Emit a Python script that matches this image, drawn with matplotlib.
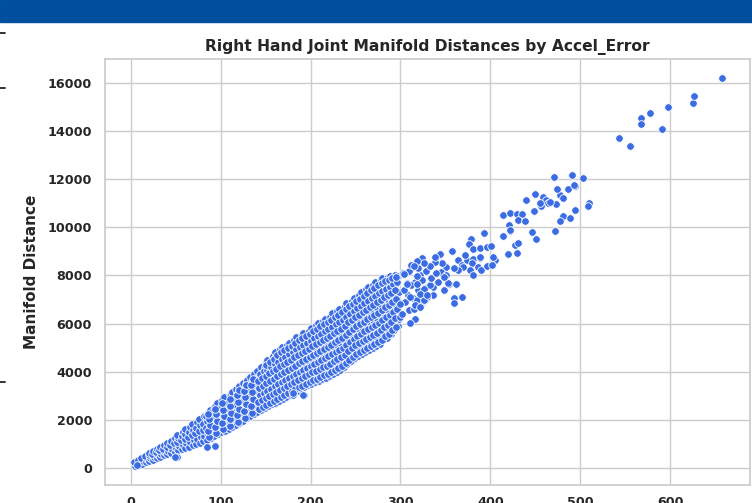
import matplotlib
matplotlib.use('Agg')
import matplotlib.pyplot as plt
from matplotlib.patches import Rectangle
from matplotlib.lines import Line2D
import seaborn as sns

sns.set_theme(style='whitegrid')
plt.rcParams['font.family'] = ['DejaVu Sans']

# dense band of points, one line per column of the cloud
band_x = [
    5, 7, 4,
    9, 10, 8,
    13, 14, 12,
    17, 18, 16,
    21, 22, 20, 21,
    25, 26, 24, 25,
    29, 30, 28, 29,
    33, 34, 32, 33,
    37, 38, 36, 37,
    41, 42, 40, 41,
    45, 46, 44, 45,
    49, 50, 48, 49,
    53, 54, 52, 53, 52,
    57, 58, 56, 57, 58,
    61, 62, 60, 61, 60,
    65, 66, 64, 65, 66,
    69, 70, 68, 69, 68,
    73, 74, 72, 73, 74,
    77, 78, 76, 77, 76,
    81, 82, 80, 81, 82,
    85, 86, 84, 85, 84, 86,
    89, 90, 88, 89, 90, 88,
    93, 94, 92, 93, 92, 94,
    97, 98, 96, 97, 98, 96,
    101, 102, 100, 101, 100, 102,
    105, 106, 104, 105, 106, 104,
    109, 110, 108, 109, 108, 110,
    113, 114, 112, 113, 114, 112, 113,
    117, 118, 116, 117, 116, 118, 117,
    121, 122, 120, 121, 122, 120, 121,
    125, 126, 124, 125, 124, 126, 125,
    129, 130, 128, 129, 130, 128, 129,
    133, 134, 132, 133, 132, 134, 133,
    137, 138, 136, 137, 138, 136, 137,
    141, 142, 140, 141, 140, 142, 141,
    145, 146, 144, 145, 146, 144, 145,
    149, 150, 148, 149, 150, 148, 149, 150,
    153, 154, 152, 153, 154, 152, 153, 152,
    157, 158, 156, 157, 158, 156, 157, 158,
    161, 162, 160, 161, 162, 160, 161, 160,
    165, 166, 164, 165, 166, 164, 165, 166,
    169, 170, 168, 169, 170, 168, 169, 168,
    173, 174, 172, 173, 174, 172, 173, 174,
    177, 178, 176, 177, 178, 176, 177, 176,
    181, 182, 180, 181, 182, 180, 181, 182,
    185, 186, 184, 185, 186, 184, 185, 184,
    189, 190, 188, 189, 190, 188, 189, 190,
    193, 194, 192, 193, 194, 192, 193, 192,
    197, 198, 196, 197, 198, 196, 197, 198,
    201, 202, 200, 201, 202, 200, 201, 200,
    205, 206, 204, 205, 206, 204, 205, 206,
    209, 210, 208, 209, 210, 208, 209, 208,
    213, 214, 212, 213, 214, 212, 213, 214,
    217, 218, 216, 217, 218, 216, 217, 216,
    221, 222, 220, 221, 222, 220, 221, 222,
    225, 226, 224, 225, 226, 224, 225, 224,
    229, 230, 228, 229, 230, 228, 229, 230,
    233, 234, 232, 233, 234, 232, 233, 232,
    237, 238, 236, 237, 238, 236, 237, 238,
    241, 242, 240, 241, 242, 240, 241, 240,
    245, 246, 244, 245, 246, 244, 245, 246,
    249, 250, 248, 249, 250, 248, 249, 248,
    253, 254, 252, 253, 254, 252, 253, 254,
    257, 258, 256, 257, 258, 256, 257, 256,
    261, 262, 260, 261, 262, 260, 261, 262,
    265, 266, 264, 265, 266, 264, 265, 264,
    269, 270, 268, 269, 270, 268, 269, 270,
    273, 274, 272, 273, 274, 272, 273, 272,
    277, 278, 276, 277, 278, 276, 277, 278,
    281, 282, 280, 281, 282, 280, 281, 280,
    285, 286, 284, 285, 286, 284, 285, 286,
    289, 290, 288, 289, 290, 288, 289, 288,
    293, 294, 292, 293, 294, 292, 293, 294,
    297, 298, 296, 297, 298, 296, 297,
]
band_y = [
    90, 180, 250,
    130, 240, 340,
    190, 300, 420,
    250, 380, 520,
    300, 420, 540, 630,
    360, 480, 600, 710,
    420, 550, 680, 800,
    480, 610, 740, 880,
    540, 680, 820, 970,
    580, 720, 880, 1050,
    630, 800, 960, 1140,
    690, 860, 1040, 1250,
    740, 920, 1100, 1260, 1380,
    790, 980, 1160, 1330, 1500,
    840, 1030, 1230, 1420, 1610,
    890, 1100, 1300, 1510, 1730,
    950, 1160, 1380, 1600, 1830,
    1010, 1230, 1460, 1690, 1940,
    1070, 1300, 1540, 1780, 2040,
    1120, 1350, 1600, 1850, 2160,
    1190, 1420, 1680, 1950, 2180, 2290,
    1260, 1500, 1760, 2020, 2260, 2420,
    1340, 1580, 1850, 2110, 2360, 2590,
    1410, 1660, 1930, 2200, 2460, 2710,
    1490, 1740, 2010, 2290, 2560, 2830,
    1560, 1810, 2080, 2360, 2640, 2940,
    1640, 1900, 2170, 2450, 2730, 3060,
    1720, 1980, 2260, 2540, 2820, 3100, 3180,
    1800, 2060, 2340, 2620, 2900, 3170, 3300,
    1880, 2140, 2420, 2710, 2990, 3260, 3420,
    1960, 2230, 2510, 2800, 3080, 3360, 3540,
    2080, 2350, 2630, 2920, 3200, 3480, 3660,
    2170, 2440, 2720, 3010, 3300, 3580, 3790,
    2250, 2520, 2800, 3100, 3390, 3680, 3910,
    2330, 2600, 2880, 3180, 3480, 3770, 4030,
    2410, 2690, 2980, 3280, 3580, 3880, 4190,
    2490, 2770, 3060, 3370, 3680, 3990, 4200, 4350,
    2570, 2850, 3150, 3460, 3780, 4090, 4320, 4510,
    2650, 2930, 3240, 3560, 3880, 4200, 4440, 4670,
    2730, 3010, 3320, 3650, 3970, 4300, 4560, 4830,
    2810, 3100, 3410, 3740, 4070, 4400, 4680, 4940,
    2890, 3180, 3500, 3830, 4160, 4490, 4780, 5020,
    2970, 3260, 3580, 3910, 4250, 4580, 4870, 5100,
    3050, 3340, 3670, 4000, 4340, 4680, 4970, 5200,
    3130, 3420, 3750, 4090, 4430, 4780, 5080, 5320,
    3210, 3500, 3840, 4180, 4530, 4880, 5180, 5440,
    3290, 3580, 3920, 4270, 4620, 4970, 5270, 5520,
    3370, 3660, 4000, 4350, 4700, 5060, 5360, 5600,
    3450, 3740, 4080, 4440, 4790, 5150, 5450, 5690,
    3510, 3810, 4160, 4520, 4880, 5240, 5550, 5810,
    3560, 3870, 4230, 4600, 4970, 5340, 5660, 5940,
    3640, 3950, 4310, 4680, 5060, 5430, 5750, 6020,
    3700, 4010, 4380, 4760, 5140, 5520, 5840, 6100,
    3750, 4070, 4450, 4840, 5230, 5610, 5930, 6190,
    3810, 4140, 4530, 4920, 5310, 5700, 6020, 6290,
    3910, 4240, 4630, 5030, 5420, 5810, 6140, 6440,
    3990, 4320, 4710, 5110, 5510, 5900, 6230, 6520,
    4080, 4410, 4800, 5200, 5600, 6000, 6330, 6620,
    4190, 4520, 4910, 5320, 5720, 6110, 6440, 6750,
    4340, 4670, 5060, 5460, 5860, 6250, 6580, 6870,
    4460, 4790, 5180, 5570, 5960, 6350, 6680, 6940,
    4580, 4910, 5300, 5690, 6080, 6470, 6800, 7060,
    4670, 5000, 5390, 5790, 6180, 6580, 6910, 7180,
    4750, 5080, 5480, 5880, 6280, 6680, 7010, 7300,
    4830, 5160, 5560, 5970, 6380, 6780, 7120, 7420,
    4910, 5250, 5660, 6070, 6480, 6890, 7230, 7540,
    4990, 5330, 5740, 6160, 6570, 6980, 7320, 7620,
    5070, 5410, 5830, 6250, 6670, 7090, 7430, 7740,
    5170, 5510, 5930, 6350, 6770, 7190, 7530, 7830,
    5330, 5660, 6070, 6480, 6890, 7300, 7620, 7890,
    5410, 5740, 6150, 6560, 6970, 7380, 7700, 7940,
    5570, 5880, 6280, 6680, 7080, 7480, 7780, 7980,
    5730, 6030, 6420, 6810, 7200, 7590, 7880, 8020,
    5890, 6180, 6560, 6940, 7320, 7700, 7990,
]

# points lying between the columns above, where the cloud is thickest
fill_x = [
    87, 86, 88, 87, 86,
    95, 94, 96, 95, 94,
    103, 102, 104, 103, 102,
    111, 110, 112, 111, 110,
    119, 118, 120, 119, 118, 120,
    127, 126, 128, 127, 126, 128,
    135, 134, 136, 135, 134, 136,
    143, 142, 144, 143, 142, 144,
    147, 146, 148, 147, 146, 148,
    151, 150, 152, 151, 150, 152, 151,
    155, 154, 156, 155, 154, 156, 155,
    159, 158, 160, 159, 158, 160, 159,
    163, 162, 164, 163, 162, 164, 163,
    167, 166, 168, 167, 166, 168, 167,
    171, 170, 172, 171, 170, 172, 171,
    175, 174, 176, 175, 174, 176, 175,
    179, 178, 180, 179, 178, 180, 179,
    183, 182, 184, 183, 182, 184, 183,
    187, 186, 188, 187, 186, 188, 187,
    191, 190, 192, 191, 190, 192, 191,
    195, 194, 196, 195, 194, 196, 195,
    199, 198, 200, 199, 198, 200, 199,
    203, 202, 204, 203, 202, 204, 203,
    207, 206, 208, 207, 206, 208, 207,
    211, 210, 212, 211, 210, 212, 211,
    215, 214, 216, 215, 214, 216, 215,
    219, 218, 220, 219, 218, 220, 219,
    223, 222, 224, 223, 222, 224, 223,
    227, 226, 228, 227, 226, 228, 227,
    231, 230, 232, 231, 230, 232, 231,
    235, 234, 236, 235, 234, 236, 235,
    239, 238, 240, 239, 238, 240, 239,
    243, 242, 244, 243, 242, 244, 243,
    247, 246, 248, 247, 246, 248, 247,
    251, 250, 252, 251, 250, 252, 251,
    255, 254, 256, 255, 254, 256, 255,
    259, 258, 260, 259, 258, 260, 259,
    263, 262, 264, 263, 262, 264, 263,
    267, 266, 268, 267, 266, 268, 267,
    271, 270, 272, 271, 270, 272, 271,
    275, 274, 276, 275, 274, 276, 275,
    279, 278, 280, 279, 278, 280, 279,
    283, 282, 284, 283, 282, 284, 283,
    287, 286, 288, 287, 286, 288, 287,
    291, 290, 292, 291, 290, 292, 291,
    295, 294, 296, 295, 294, 296, 295,
]
fill_y = [
    1305, 1550, 1815, 2065, 2235,
    1460, 1715, 1980, 2235, 2475,
    1615, 1875, 2150, 2425, 2695,
    1770, 2035, 2310, 2590, 2895,
    1930, 2200, 2480, 2760, 3035, 3235,
    2095, 2370, 2655, 2940, 3220, 3450,
    2305, 2580, 2865, 3155, 3440, 3685,
    2465, 2740, 3030, 3330, 3625, 3900,
    2550, 2835, 3130, 3430, 3730, 4035,
    2630, 2915, 3215, 3525, 3835, 4095, 4275,
    2710, 3000, 3305, 3620, 3935, 4205, 4415,
    2790, 3085, 3400, 3720, 4040, 4320, 4555,
    2870, 3165, 3485, 3810, 4135, 4430, 4695,
    2955, 3255, 3575, 3905, 4235, 4540, 4810,
    3035, 3340, 3665, 3995, 4325, 4635, 4900,
    3115, 3420, 3745, 4080, 4415, 4725, 4985,
    3195, 3505, 3835, 4170, 4510, 4825, 5085,
    3275, 3585, 3920, 4260, 4605, 4930, 5200,
    3355, 3670, 4010, 4355, 4705, 5030, 5310,
    3435, 3750, 4095, 4445, 4795, 5120, 5395,
    3515, 3830, 4175, 4525, 4880, 5210, 5480,
    3595, 3910, 4260, 4615, 4970, 5300, 5570,
    3660, 3985, 4340, 4700, 5060, 5395, 5680,
    3715, 4050, 4415, 4785, 5155, 5500, 5800,
    3795, 4130, 4495, 4870, 5245, 5590, 5885,
    3855, 4195, 4570, 4950, 5330, 5680, 5970,
    3910, 4260, 4645, 5035, 5420, 5770, 6060,
    3975, 4335, 4725, 5115, 5505, 5860, 6155,
    4075, 4435, 4830, 5225, 5615, 5975, 6290,
    4155, 4515, 4910, 5310, 5705, 6065, 6375,
    4245, 4605, 5000, 5400, 5800, 6165, 6475,
    4355, 4715, 5115, 5520, 5915, 6275, 6595,
    4505, 4865, 5260, 5660, 6055, 6415, 6725,
    4625, 4985, 5375, 5765, 6155, 6515, 6810,
    4745, 5105, 5495, 5885, 6275, 6635, 6930,
    4835, 5195, 5590, 5985, 6380, 6745, 7045,
    4915, 5280, 5680, 6080, 6480, 6845, 7155,
    4995, 5360, 5765, 6175, 6580, 6950, 7270,
    5080, 5455, 5865, 6275, 6685, 7060, 7385,
    5160, 5535, 5950, 6365, 6775, 7150, 7470,
    5240, 5620, 6040, 6460, 6880, 7260, 7585,
    5340, 5720, 6140, 6560, 6980, 7360, 7680,
    5495, 5865, 6275, 6685, 7095, 7460, 7755,
    5575, 5945, 6355, 6765, 7175, 7540, 7820,
    5725, 6080, 6480, 6880, 7280, 7630, 7880,
    5880, 6225, 6615, 7005, 7395, 7735, 7950,
]

# looser points between accel error 300 and 400
mid_x = [322, 324, 327, 336, 348, 354, 362, 336, 359, 368, 359, 325,
         364, 368, 374, 381, 388, 380, 386, 390, 396, 405, 402, 377, 381, 370, 364, 359, 351, 346, 338, 345, 351,
         378, 376, 357, 344, 338, 372, 381, 388,
         314, 320, 303, 307, 316, 333, 353, 322, 327, 314, 309, 316, 311, 299,
         302, 305, 308, 312, 310, 318, 320, 324, 328, 315, 330, 334, 340, 342, 348, 333, 326, 312, 318,
         326, 326, 318, 322, 311, 304, 318, 315, 304, 307, 300, 329, 316, 322, 388]
mid_y = [8021, 8739, 7469, 7535, 7398, 7647, 7635, 7191, 7054, 7120, 6846, 6913,
         8643, 8436, 8643, 8672, 8739, 8506, 8365, 8228, 8394, 8643, 8436, 8228, 8021, 8365, 8228, 8299, 8340, 8506, 8573, 8158, 8021,
         9502, 9307, 9029, 8880, 8755, 8851, 9087, 9129,
         8365, 8299, 8091, 7676, 7743, 7606, 7676, 6776, 6983, 7054, 6568, 6183, 6041, 6290,
         6400, 6900, 7200, 7600, 8200, 7000, 7400, 7800, 8200, 6600, 7100, 7900, 8100, 7750, 7950, 8400, 8500, 8450, 8600,
         6964, 7447, 7653, 7240, 7102, 7378, 7998, 8412, 8067, 7653, 6826, 7191, 6776, 6706, 8780]

# sparse points above 390
upper_x = [393, 414, 422, 429, 435, 431, 438, 421, 422, 414, 427, 431, 396, 401, 419, 430, 403, 422,
           439, 450, 459, 462, 464, 477, 481, 473, 456, 448, 510, 508, 494, 481, 477, 488, 472, 446, 451,
           471, 491, 503, 494, 486, 474, 493, 466, 455,
           543, 555, 567, 567, 577, 591, 597, 625, 626, 657]
upper_y = [9751, 10510, 10606, 10552, 10552, 10303, 10274, 10095, 9859, 9639, 9266, 9361, 9195, 9237, 8880, 8921, 8780, 9888,
           11133, 11382, 11270, 11133, 10996, 11340, 11203, 10967, 10896, 10689, 11021, 10896, 10718, 10481, 10261, 10373, 9834, 9805, 9515,
           12075, 12170, 12033, 11726, 11577, 11602, 11755, 11062, 10996,
           13693, 13386, 14523, 14286, 14730, 14079, 15004, 15145, 15448, 16183]

# low outliers under the band
low_x = [7, 52, 49, 85, 94, 181, 193, 181, 192]
low_y = [130, 483, 470, 896, 924, 3034, 3034, 3112, 3041]

assert len(band_x) == len(band_y)
assert len(fill_x) == len(fill_y)
assert len(mid_x) == len(mid_y)
assert len(upper_x) == len(upper_y)

all_x = band_x + fill_x + mid_x + upper_x + low_x
all_y = band_y + fill_y + mid_y + upper_y + low_y

fig = plt.figure(figsize=(7.52, 5.03), dpi=100)

# slide header band and left-hand bullet marks
fig.patches.append(Rectangle((0, 1 - 22 / 503), 1, 22 / 503, transform=fig.transFigure,
                             color='#004f9f', zorder=0))
for yy in [33, 88, 382]:
    fig.add_artist(Line2D([0, 5 / 752], [1 - yy / 503] * 2, color='#222222', lw=1.3))

ax = fig.add_axes([104.5 / 752, 1 - 485 / 503, 645 / 752, 425.7 / 503])
ax.scatter(all_x, all_y, s=30, color='#3b6ce3', edgecolor='white', linewidth=0.6, zorder=3)

ax.set_xlim(-29, 688)
ax.set_ylim(-693, 16970)
ax.set_xticks(range(0, 700, 100))
ax.set_yticks(range(0, 17000, 2000))
ax.tick_params(axis='y', length=0, pad=9, labelsize=9.2)
ax.tick_params(axis='x', length=0, pad=8, labelsize=9.2)
for lab in ax.get_xticklabels() + ax.get_yticklabels():
    lab.set_fontweight('bold')

ax.set_title('Right Hand Joint Manifold Distances by Accel_Error', fontsize=11.2,
             fontweight='bold', pad=6)
ax.set_ylabel('Manifold Distance', fontsize=11, fontweight='bold')
ax.yaxis.set_label_coords(-0.101, 0.5)

fig.savefig('out.png', dpi=100)
